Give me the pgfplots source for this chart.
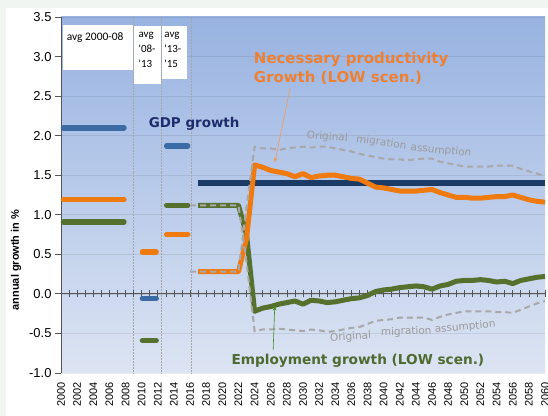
\documentclass[border=0pt]{standalone}
\usepackage{fontspec}
\setmainfont{Liberation Sans}
\newfontfamily\verd{DejaVu Sans}
\newfontfamily\calib{Carlito}
\usepackage{pgfplots}
\pgfplotsset{compat=1.18}
\usetikzlibrary{arrows.meta}

\definecolor{framegray}{HTML}{F1F5F1}
\definecolor{bgtop}{HTML}{98B3E1}
\definecolor{bgbot}{HTML}{DCE4F3}
\definecolor{axisgray}{HTML}{555555}
\definecolor{gdpblue}{HTML}{3A6BA5}
\definecolor{navy}{HTML}{1B3A66}
\definecolor{prodorange}{HTML}{EE7A10}
\definecolor{empgreen}{HTML}{55712D}
\definecolor{dashgray}{HTML}{A8A8A8}
\definecolor{txtnavy}{HTML}{1F2B6B}
\definecolor{txtorange}{HTML}{EE8033}
\definecolor{txtgreen}{HTML}{4E6A2F}
\definecolor{txtgray}{HTML}{9A9A9A}

% productivity (LOW scen.) from 2017
\pgfplotstableread{
year val
2017 0.28
2018 0.28
2019 0.28
2020 0.28
2021 0.28
2022 0.28
2023 0.70
2024 1.63
2025 1.60
2026 1.56
2027 1.54
2028 1.52
2029 1.48
2030 1.52
2031 1.47
2032 1.49
2033 1.50
2034 1.50
2035 1.48
2036 1.46
2037 1.45
2038 1.40
2039 1.35
2040 1.34
2041 1.32
2042 1.30
2043 1.30
2044 1.30
2045 1.31
2046 1.32
2047 1.28
2048 1.25
2049 1.22
2050 1.22
2051 1.21
2052 1.21
2053 1.22
2054 1.23
2055 1.23
2056 1.25
2057 1.22
2058 1.19
2059 1.17
2060 1.16
}\prodlow

% employment (LOW scen.) from 2017
\pgfplotstableread{
year val
2017 1.12
2018 1.12
2019 1.12
2020 1.12
2021 1.12
2022 1.12
2023 0.75
2024 -0.22
2025 -0.18
2026 -0.16
2027 -0.13
2028 -0.11
2029 -0.09
2030 -0.13
2031 -0.08
2032 -0.09
2033 -0.11
2034 -0.10
2035 -0.08
2036 -0.06
2037 -0.05
2038 -0.02
2039 0.03
2040 0.05
2041 0.06
2042 0.08
2043 0.09
2044 0.10
2045 0.09
2046 0.06
2047 0.10
2048 0.12
2049 0.16
2050 0.17
2051 0.17
2052 0.18
2053 0.17
2054 0.15
2055 0.16
2056 0.13
2057 0.17
2058 0.19
2059 0.21
2060 0.22
}\emplow

% original migration assumption: productivity
\pgfplotstableread{
year val
2016 0.28
2017 0.28
2018 0.28
2019 0.28
2020 0.28
2021 0.28
2022 0.28
2023 1.10
2024 1.86
2025 1.84
2026 1.84
2027 1.82
2028 1.84
2029 1.85
2030 1.86
2031 1.85
2032 1.86
2033 1.86
2034 1.84
2035 1.82
2036 1.80
2037 1.77
2038 1.75
2039 1.73
2040 1.71
2041 1.70
2042 1.70
2043 1.69
2044 1.70
2045 1.71
2046 1.71
2047 1.67
2048 1.65
2049 1.63
2050 1.61
2051 1.61
2052 1.61
2053 1.61
2054 1.62
2055 1.62
2056 1.62
2057 1.58
2058 1.55
2059 1.52
2060 1.49
}\prodorig

% original migration assumption: employment
\pgfplotstableread{
year val
2016 1.12
2017 1.12
2018 1.12
2019 1.12
2020 1.12
2021 1.12
2022 1.12
2023 0.40
2024 -0.47
2025 -0.45
2026 -0.45
2027 -0.44
2028 -0.45
2029 -0.46
2030 -0.47
2031 -0.45
2032 -0.46
2033 -0.48
2034 -0.47
2035 -0.45
2036 -0.43
2037 -0.42
2038 -0.38
2039 -0.34
2040 -0.33
2041 -0.32
2042 -0.30
2043 -0.30
2044 -0.30
2045 -0.30
2046 -0.33
2047 -0.29
2048 -0.26
2049 -0.24
2050 -0.22
2051 -0.22
2052 -0.22
2053 -0.22
2054 -0.23
2055 -0.23
2056 -0.24
2057 -0.20
2058 -0.16
2059 -0.12
2060 -0.09
}\emporig

\begin{document}
\begin{tikzpicture}
\fill[framegray] (0,0) rectangle (548bp,416bp);
\fill[white] (6bp,0) rectangle (548bp,408bp);
\shade[top color=bgtop, bottom color=bgbot] (61bp,43bp) rectangle (545bp,399bp);
\useasboundingbox (0,0) rectangle (548bp,416bp);
\node[rotate=90, font=\bfseries\fontsize{11}{11}\selectfont] at (16bp,156bp) {annual growth in \%};
\begin{axis}[
    at={(61bp,43bp)}, anchor=south west,
    scale only axis, width=484bp, height=356bp,
    xmin=2000, xmax=2060, ymin=-1, ymax=3.5,
    clip=false,
    axis y line*=left, axis x line*=bottom,
    x axis line style={draw=none},
    y axis line style={draw=axisgray, line width=0.8bp},
    /pgf/number format/1000 sep={},
    /pgf/number format/assume math mode=true,
    xtick={2000,2002,...,2060},
    xticklabel style={rotate=90, anchor=east, font=\fontsize{11}{11}\selectfont},
    major x tick style={draw=none},
    ytick={-1,-0.5,...,3.5},
    yticklabel style={font=\fontsize{13}{13}\selectfont,
      /pgf/number format/fixed, /pgf/number format/fixed zerofill,
      /pgf/number format/precision=1},
    tick align=outside, major tick length=6bp,
    ytick style={draw=axisgray, line width=0.8bp},
    ymajorgrids, grid style={draw=black, opacity=0.08, line width=0.6bp},
]

% period separators
\draw[gray!70, densely dotted, line width=0.5bp] (axis cs:2008.9,-1) -- (axis cs:2008.9,3.5);
\draw[gray!70, densely dotted, line width=0.5bp] (axis cs:2012.4,-1) -- (axis cs:2012.4,3.5);
\draw[gray!70, densely dotted, line width=0.5bp] (axis cs:2016.1,-1) -- (axis cs:2016.1,3.5);

% label boxes
\fill[white] (axis cs:2000.25,3.40) rectangle (axis cs:2008.9,2.83);
\fill[white] (axis cs:2009.1,3.39) rectangle (axis cs:2012.4,2.65);
\fill[white] (axis cs:2012.5,3.39) rectangle (axis cs:2015.6,2.72);
\node[anchor=north west, inner sep=0, font=\calib\fontsize{11.5}{14}\selectfont] at (axis cs:2000.7,3.31) {avg 2000-08};
\node[anchor=north west, inner sep=0, align=left, font=\calib\fontsize{11}{15}\selectfont] at (axis cs:2009.6,3.31) {avg\\'08-\\'13};
\node[anchor=north west, inner sep=0, align=left, font=\calib\fontsize{11}{15}\selectfont] at (axis cs:2012.8,3.31) {avg\\'13-\\'15};

% zero line with yearly ticks
\draw[axisgray, line width=0.8bp] (axis cs:2000,0) -- (axis cs:2060,0);
\pgfplotsinvokeforeach{2000,...,2060}{
  \draw[axisgray, line width=0.6bp] ([yshift=-3.5bp]axis cs:#1,0) -- ([yshift=3.5bp]axis cs:#1,0);
}

% period averages
\addplot[gdpblue, line width=5.5bp, line cap=round] coordinates {(2000.3,2.10) (2007.8,2.10)};
\addplot[gdpblue, line width=5.5bp, line cap=round] coordinates {(2010.1,-0.06) (2011.8,-0.06)};
\addplot[gdpblue, line width=5.5bp, line cap=round] coordinates {(2013.1,1.87) (2015.7,1.87)};
\addplot[prodorange, line width=5.5bp, line cap=round] coordinates {(2000.3,1.19) (2007.8,1.19)};
\addplot[prodorange, line width=5.5bp, line cap=round] coordinates {(2010.1,0.53) (2011.8,0.53)};
\addplot[prodorange, line width=5.5bp, line cap=round] coordinates {(2013.1,0.75) (2015.7,0.75)};
\addplot[empgreen, line width=5.5bp, line cap=round] coordinates {(2000.3,0.91) (2007.8,0.91)};
\addplot[empgreen, line width=5.5bp, line cap=round] coordinates {(2010.1,-0.59) (2011.8,-0.59)};
\addplot[empgreen, line width=5.5bp, line cap=round] coordinates {(2013.1,1.12) (2015.7,1.12)};

% GDP growth assumption
\addplot[navy, line width=5.5bp, line cap=butt] coordinates {(2017,1.40) (2060,1.40)};

% scenario lines
\addplot[empgreen, line width=5bp, line join=round] table[x=year, y=val] {\emplow};
\addplot[prodorange, line width=5bp, line join=round] table[x=year, y=val] {\prodlow};
\addplot[dashgray, line width=2bp, dash pattern=on 6bp off 4bp] table[x=year, y=val] {\prodorig};
\addplot[dashgray, line width=2bp, dash pattern=on 6bp off 4bp] table[x=year, y=val] {\emporig};

% annotations
\node[font=\verd\bfseries\fontsize{13.5}{16}\selectfont, text=txtnavy] at (axis cs:2016.5,2.15) {GDP growth};
\node[anchor=west, align=left, inner sep=0, font=\verd\bfseries\fontsize{15}{19}\selectfont, text=txtorange] at (axis cs:2023.9,2.85) {Necessary productivity\\Growth (LOW scen.)};
\node[font=\verd\bfseries\fontsize{13.7}{16}\selectfont, text=txtgreen] at (axis cs:2036.8,-0.85) {Employment growth (LOW scen.)};
\draw[-{Stealth[length=5bp]}, txtorange!80, line width=0.6bp] (axis cs:2028.4,2.60) -- (axis cs:2026.5,1.66);
\draw[-{Stealth[length=5bp]}, empgreen!80!green, line width=0.6bp] (axis cs:2026.3,-0.71) -- (axis cs:2026.5,-0.15);
\node[font=\verd\fontsize{10.5}{12}\selectfont, text=txtgray, rotate=-4] at (axis cs:2033.0,1.98) {Original};
\node[font=\verd\fontsize{10.5}{12}\selectfont, text=txtgray, rotate=-8] at (axis cs:2039.7,1.91) {migration};
\node[font=\verd\fontsize{10.5}{12}\selectfont, text=txtgray, rotate=-5] at (axis cs:2047.1,1.81) {assumption};
\node[font=\verd\fontsize{10.5}{12}\selectfont, text=txtgray, rotate=4] at (axis cs:2035.9,-0.545) {Original};
\node[font=\verd\fontsize{10.5}{12}\selectfont, text=txtgray, rotate=2] at (axis cs:2042.8,-0.48) {migration};
\node[font=\verd\fontsize{10.5}{12}\selectfont, text=txtgray, rotate=5] at (axis cs:2050.1,-0.42) {assumption};
\end{axis}
\end{tikzpicture}
\end{document}
